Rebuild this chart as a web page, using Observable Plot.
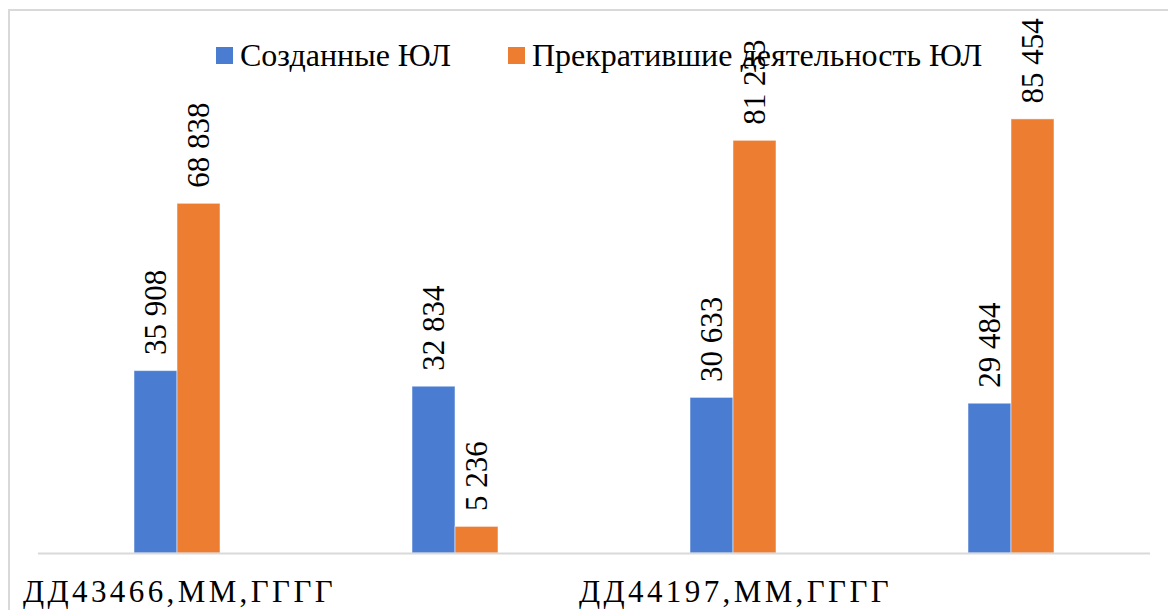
<!DOCTYPE html>
<html lang="ru">
<head>
<meta charset="utf-8">
<script src="https://cdn.jsdelivr.net/npm/d3@7"></script>
<script src="https://cdn.jsdelivr.net/npm/@observablehq/plot@0.6"></script>
<style>
  html, body { margin: 0; padding: 0; background: #fff; }
  #chart { position: relative; width: 1168px; height: 610px; overflow: hidden; font-family: "Liberation Serif", "Tinos", "DejaVu Serif", serif; }
  #frame { position: absolute; left: 8px; top: 9px; width: 1200px; height: 700px; border-top: 2px solid #d9d9d9; border-left: 2px solid #d9d9d9; box-sizing: border-box; }
  #chart svg { position: absolute; left: 0; top: 0; overflow: visible; }
  .legend-item { position: absolute; top: 36px; display: flex; align-items: center; font-size: 32px; color: #000; white-space: nowrap; line-height: 38px; }
  .legend-item .swatch { width: 17px; height: 17px; margin-right: 7px; }
</style>
</head>
<body>
<div id="chart"><div id="frame"></div></div>
<script>
// Categories (Excel date serials left unformatted) and the two series
const categories = ["ДД43466,ММ,ГГГГ", "ДД43831,ММ,ГГГГ", "ДД44197,ММ,ГГГГ", "ДД44562,ММ,ГГГГ"];
const tickLabels = ["ДД43466,ММ,ГГГГ", "", "ДД44197,ММ,ГГГГ", ""];
const seriesNames = ["Созданные ЮЛ", "Прекратившие деятельность ЮЛ"];
const created = [35908, 32834, 30633, 29484];
const closed = [68838, 5236, 81233, 85454];
const colors = ["#4A7DD1", "#ED7D31"];

const rows = [];
categories.forEach((c, i) => {
  rows.push({cat: c, series: seriesNames[0], value: created[i]});
  rows.push({cat: c, series: seriesNames[1], value: closed[i]});
});

const ru = d3.formatLocale({decimal: ",", thousands: " ", grouping: [3], currency: ["", ""]});
const fmt = ru.format(",d");
const serif = "'Liberation Serif', 'Tinos', 'DejaVu Serif', serif";

const chart = Plot.plot({
  width: 1168,
  height: 610,
  marginTop: 45,
  marginBottom: 57,
  marginLeft: 38,
  marginRight: 18,
  style: {background: "transparent", fontFamily: serif, color: "#000"},
  fx: {
    domain: categories,
    padding: 0,
    axis: "bottom",
    label: null,
    tickSize: 0,
    tickPadding: 26,
    tickFormat: d => tickLabels[categories.indexOf(d)]
  },
  x: {domain: seriesNames, axis: null, paddingInner: 0, paddingOuter: 2.19},
  y: {domain: [0, 100000], axis: null},
  color: {domain: seriesNames, range: colors},
  marks: [
    Plot.barY(rows, {
      fx: "cat", x: "series", y: "value", fill: "series",
      stroke: "#ffffff", strokeOpacity: 0.5, strokeWidth: 1
    }),
    Plot.text(rows, {
      fx: "cat", x: "series", y: "value",
      text: d => fmt(d.value),
      rotate: -90, textAnchor: "start", lineAnchor: "middle",
      dy: -16, fontSize: 31, fontFamily: serif, fill: "#000"
    }),
    Plot.ruleY([0], {stroke: "#d9d9d9", strokeWidth: 2})
  ]
});

// style the facet tick labels
d3.select(chart).selectAll("[aria-label='fx-axis tick label']")
  .attr("font-size", 31).attr("font-family", serif).attr("fill", "#000");
d3.select(chart).selectAll("[aria-label='fx-axis tick label'] text")
  .attr("letter-spacing", "3.4px").attr("dx", "2px");

const host = document.getElementById("chart");
host.appendChild(chart);

// Legend above the plot area
const legendLeft = [216, 508];
seriesNames.forEach((name, i) => {
  const item = document.createElement("div");
  item.className = "legend-item";
  item.style.left = legendLeft[i] + "px";
  const sw = document.createElement("span");
  sw.className = "swatch";
  sw.style.background = colors[i];
  const label = document.createElement("span");
  label.textContent = name;
  item.appendChild(sw);
  item.appendChild(label);
  host.insertBefore(item, chart);
});
</script>
</body>
</html>
